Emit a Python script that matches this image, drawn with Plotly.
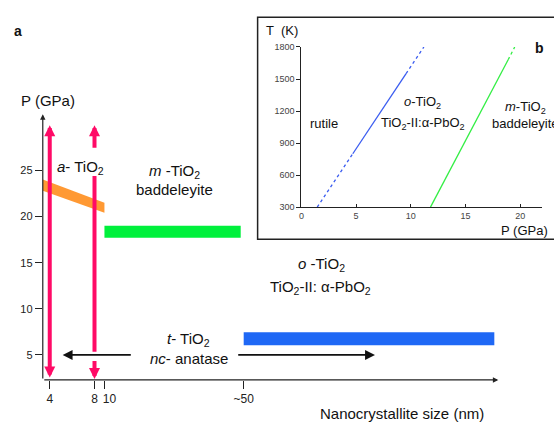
import plotly.graph_objects as go

W, H = 554, 425
FONT = "Liberation Sans, Arial, sans-serif"

# ---- panel a: schematic P vs nanocrystallite size ----
size_labels = ["4", "8", "\u2007\u00a010", "~50"]
size_pos = [0.7, 5.2, 6.2, 20.2]          # positions of the size ticks on the schematic axis
p_ticks = [5, 10, 15, 20, 25]

# amorphous -> high pressure band (a-TiO2), pressure at its two ends (lower, upper)
orange_pos = [0.0, 6.2]
orange_p_lo = [22.8, 20.4]
orange_p_hi = [24.0, 21.5]

# m-TiO2 (baddeleyite) band
green_pos = [6.2, 19.9]
green_p = [17.7, 19.0]

# o-TiO2 band
blue_pos = [20.2, 45.4]
blue_p = [6.06, 7.47]

# pressure arrows at 4 nm and 8 nm
arrow_sizes = [0.7, 5.2]
arrow_p_top = 29.9
arrow_p_bottom = 2.4
gap8_p = [27.3, 24.4, 5.35, 4.5]   # segment ends of the 8 nm arrow

# nc-anatase stability arrows at 5 GPa
anatase_p = 5.0
anatase_left = [9.0, 2.0]
anatase_right = [19.5, 33.4]

X_RANGE = [0, 45.8]
Y_RANGE = [2.29, 31.07]

# ---- panel b: T-P phase diagram ----
blue_T = [300, 800, 1550, 1800]
blue_P = [1.45, 4.7, 9.57, 11.2]
green_T = [300, 1680, 1800]
green_P = [11.8, 18.9, 19.5]
t_ticks = [300, 600, 900, 1200, 1500, 1800]
pb_ticks = [0, 5, 10, 15, 20]

PINK = "#ff0a66"
ORANGE = "#ff9933"
GREEN = "#00f03c"
BLUE = "#1f68f5"
AXC = "#222222"


def px(x, y):
    return x / W, 1 - y / H


fig = go.Figure()

# bands
fig.add_trace(go.Scatter(
    x=[orange_pos[0], orange_pos[1], orange_pos[1], orange_pos[0]],
    y=[orange_p_lo[0], orange_p_lo[1], orange_p_hi[1], orange_p_hi[0]],
    fill="toself", fillcolor=ORANGE, line=dict(width=0), mode="lines",
    hoverinfo="skip", showlegend=False))
fig.add_trace(go.Scatter(
    x=[green_pos[0], green_pos[1], green_pos[1], green_pos[0]],
    y=[green_p[0], green_p[0], green_p[1], green_p[1]],
    fill="toself", fillcolor=GREEN, line=dict(width=0), mode="lines",
    hoverinfo="skip", showlegend=False))
fig.add_trace(go.Scatter(
    x=[blue_pos[0], blue_pos[1], blue_pos[1], blue_pos[0]],
    y=[blue_p[0], blue_p[0], blue_p[1], blue_p[1]],
    fill="toself", fillcolor=BLUE, line=dict(width=0), mode="lines",
    hoverinfo="skip", showlegend=False))

# middle piece of the 8 nm arrow
fig.add_trace(go.Scatter(
    x=[arrow_sizes[1], arrow_sizes[1]], y=[gap8_p[1], gap8_p[2]],
    mode="lines", line=dict(color=PINK, width=4), hoverinfo="skip", showlegend=False))

# panel b boundaries
seg_styles = ["dot", "solid", "dot"]
for i in range(3):
    fig.add_trace(go.Scatter(
        x=blue_P[i:i + 2], y=blue_T[i:i + 2], xaxis="x2", yaxis="y2",
        mode="lines", line=dict(color="#3a5cf0", width=1.3, dash=seg_styles[i]),
        hoverinfo="skip", showlegend=False))
for i, d in enumerate(["solid", "dot"]):
    fig.add_trace(go.Scatter(
        x=green_P[i:i + 2], y=green_T[i:i + 2], xaxis="x2", yaxis="y2",
        mode="lines", line=dict(color="#33ee44", width=1.3, dash=d),
        hoverinfo="skip", showlegend=False))

ann = []


def arrow(x, y, ax, ay, color, width, size, both=False, xr="x", yr="y"):
    a = dict(x=x, y=y, ax=ax, ay=ay, xref=xr, yref=yr, axref=xr, ayref=yr,
             text="", showarrow=True, arrowhead=2, arrowsize=size,
             arrowwidth=width, arrowcolor=color)
    if both:
        a.update(arrowside="end+start", startarrowhead=2, startarrowsize=size)
    ann.append(a)


# axes of panel a
arrow(0, Y_RANGE[1], 0, Y_RANGE[0], AXC, 1.2, 0.9)
arrow(X_RANGE[1], Y_RANGE[0], 0, Y_RANGE[0], AXC, 1.2, 0.9)

# pink pressure arrows
arrow(arrow_sizes[0], arrow_p_top, arrow_sizes[0], arrow_p_bottom, PINK, 4, 0.55, both=True)
arrow(arrow_sizes[1], arrow_p_top, arrow_sizes[1], gap8_p[0], PINK, 4, 0.55)
arrow(arrow_sizes[1], arrow_p_bottom, arrow_sizes[1], gap8_p[3], PINK, 4, 0.55)

# anatase arrows
arrow(anatase_left[1], anatase_p, anatase_left[0], anatase_p, "#111111", 1.8, 1.1)
arrow(anatase_right[1], anatase_p, anatase_right[0], anatase_p, "#111111", 1.8, 1.1)


def label(text, x, y, size=15, xanchor="center", color="#111111"):
    xx, yy = px(x, y)
    ann.append(dict(text=text, x=xx, y=yy, xref="paper", yref="paper",
                    xanchor=xanchor, yanchor="middle", showarrow=False,
                    font=dict(family=FONT, size=size, color=color)))


label("<b>a</b>", 15, 27, 14)
label("P (GPa)", 45, 98)
label("<i>a</i>- TiO<sub>2</sub>", 78, 166)
label("<i>m</i> -TiO<sub>2</sub>", 172, 170)
label("baddeleyite", 172, 189)
label("<i>o</i> -TiO<sub>2</sub>", 320, 266)
label("TiO<sub>2</sub>-II: α-PbO<sub>2</sub>", 319, 289)
label("<i>t</i>- TiO<sub>2</sub>", 187, 343)
label("<i>nc</i>- anatase", 187, 362)
label("Nanocrystallite size (nm)", 401, 418)

label("T  (K)", 281, 26, 13)
label("P (GPa)", 524, 231, 13)
label("<b>b</b>", 539, 44, 14)
label("rutile", 323, 121, 13)
label("<i>o</i>-TiO<sub>2</sub>", 422, 100, 13)
label("TiO<sub>2</sub>-II:α-PbO<sub>2</sub>", 422, 121, 13)
label("<i>m</i>-TiO<sub>2</sub>", 525, 105, 13)
label("baddeleyite", 490, 121, 13, xanchor="left")

box_x0, box_y1 = px(256, 12.5)
box_x1, box_y0 = px(560, 240)

fig.update_layout(
    width=W, height=H, margin=dict(l=0, r=0, t=0, b=0),
    paper_bgcolor="white", plot_bgcolor="rgba(0,0,0,0)",
    font=dict(family=FONT, color="#111111"),
    annotations=ann,
    shapes=[dict(type="rect", xref="paper", yref="paper",
                 x0=box_x0, x1=box_x1, y0=box_y0, y1=box_y1,
                 line=dict(color=AXC, width=1.5), fillcolor="white", layer="below")],
    xaxis=dict(domain=[40 / W, 498 / W], range=X_RANGE, showgrid=False, zeroline=False,
               showline=False, ticks="outside", ticklen=8, tickwidth=1, tickcolor=AXC,
               tickvals=size_pos, ticktext=size_labels, tickangle=0,
               tickfont=dict(size=12, color="#222222")),
    yaxis=dict(domain=[1 - 384 / H, 1 - 112 / H], range=Y_RANGE, showgrid=False,
               zeroline=False, showline=False, ticks="outside", ticklen=7, tickwidth=1,
               tickcolor=AXC, tickvals=p_ticks, tickfont=dict(size=11, color="#222222")),
    xaxis2=dict(domain=[300 / W, 542 / W], range=[0, 22], anchor="y2", showgrid=False,
                zeroline=False, showline=True, linecolor=AXC, linewidth=1,
                ticks="inside", ticklen=3, tickcolor=AXC, tickvals=pb_ticks, tickangle=0,
                tickfont=dict(size=9, color="#444444")),
    yaxis2=dict(domain=[1 - 207 / H, 1 - 43 / H], range=[300, 1800], anchor="x2",
                showgrid=False, zeroline=False, showline=True, linecolor=AXC, linewidth=1,
                ticks="outside", ticklen=4, tickcolor=AXC, tickvals=t_ticks,
                tickfont=dict(size=9, color="#444444")),
)

fig.write_html("out.html")
